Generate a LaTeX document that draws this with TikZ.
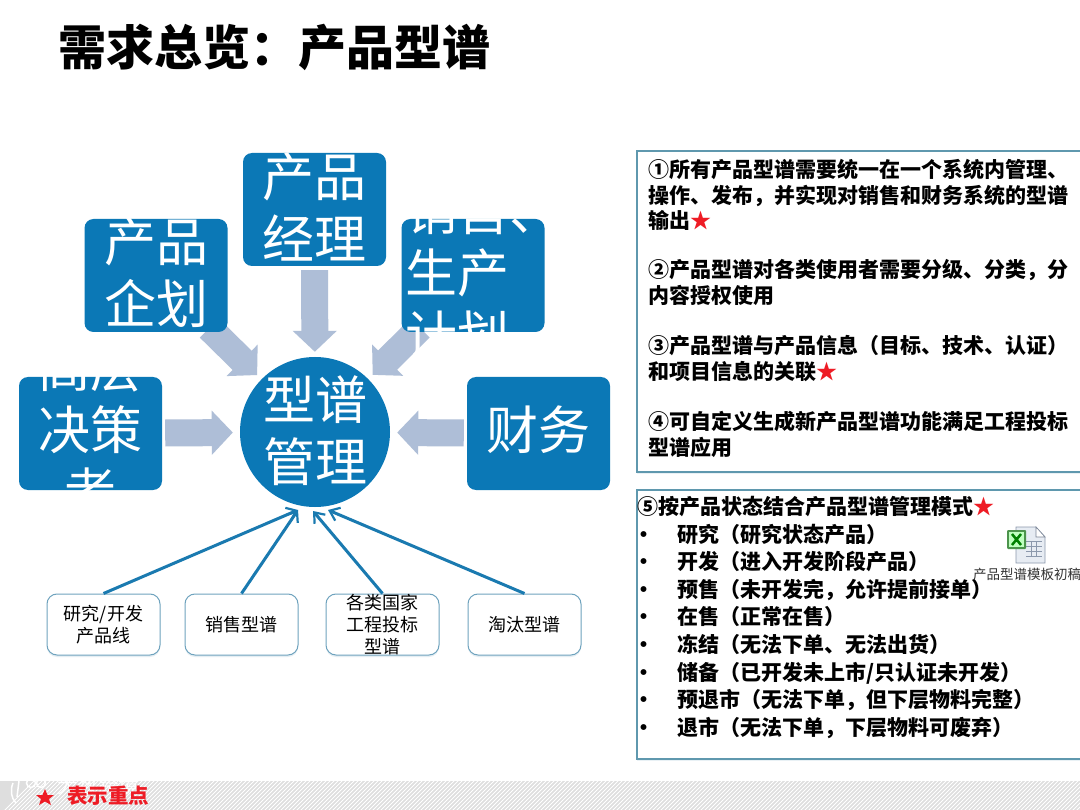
\documentclass[tikz,border=0pt]{standalone}
\usepackage{fontspec}
\setmainfont{Noto Sans CJK SC}
\usetikzlibrary{arrows.meta,backgrounds,shadows}
\definecolor{hubblue}{HTML}{0B78B6}
\definecolor{blockcol}{HTML}{AEBED7}
\definecolor{edgeblue}{HTML}{1A7AB0}
\definecolor{panelline}{HTML}{5F98AE}
\definecolor{lowline}{HTML}{6FA3BE}
\definecolor{starred}{HTML}{EE1C25}
\newcommand{\hs}{{\color{starred}★}}
\newcommand{\bl}{\makebox[40pt][l]{\hspace{-4pt}•}}
\tikzset{
  x=1pt,y=-1pt,
  bluebox/.style={draw=none,fill=hubblue,rounded corners=9pt,minimum width=143pt,minimum height=113pt,inner sep=0pt},
  hubnode/.style={circle,fill=hubblue,minimum size=150pt,inner sep=0pt},
  bigtext/.style={inner sep=0pt,text=white,align=center,font=\fontsize{52}{62}\selectfont},
  blockarrow/.style={line width=27pt,color=blockcol,-{Triangle[width=43pt,length=21pt]}},
  lowbox/.style={draw=lowline,line width=1pt,fill=white,rounded corners=10pt,minimum width=113pt,minimum height=61pt,inner sep=0pt,
    drop shadow={shadow xshift=0pt,shadow yshift=-2pt,opacity=.18,fill=lowline}},
  lowtext/.style={inner sep=0pt,align=center,font=\fontsize{18}{22}\selectfont},
  thinarrow/.style={edgeblue,line width=3pt,-{Straight Barb[length=9pt,width=14pt,line width=2.2pt]}},
  panel/.style={draw=panelline,line width=1.5pt,fill=white,drop shadow={shadow xshift=0pt,shadow yshift=-2pt,opacity=.15,fill=lowline}},
  paneltext/.style={anchor=west,inner sep=0pt,align=left,font=\fontsize{21}{25.2}\selectfont\bfseries}
}
\begin{document}
\begin{tikzpicture}
\useasboundingbox (0,0) rectangle (1080,810);

\node[anchor=west,inner sep=0pt,font=\fontsize{48}{48}\selectfont\bfseries] (title) at (58,47) {需求总览：产品型谱};

% central diagram
\node[hubnode] (hub) at (315,432) {};
\node[bluebox] (pm) at (314.5,209.5) {};
\node[bluebox] (plan) at (156,275.5) {};
\node[bluebox] (prod) at (473,275.5) {};
\node[bluebox] (exec) at (90.5,433.5) {};
\node[bluebox] (fin) at (538.5,433.5) {};

\begin{scope}[on background layer]
\fill[white] (0,0) rectangle (1080,810);
\draw[blockarrow,shorten <=4pt,shorten >=5pt] (pm) -- (hub);
\draw[blockarrow,shorten <=-6pt,shorten >=6pt] (plan) -- (hub);
\draw[blockarrow,shorten <=-6pt,shorten >=6pt] (prod) -- (hub);
\draw[blockarrow,shorten <=3pt,shorten >=7pt] (exec) -- (hub);
\draw[blockarrow,shorten <=3pt,shorten >=7pt] (fin) -- (hub);
\end{scope}

\node[bigtext] (hubt) at (315,431) {型谱\\管理};
\node[bigtext] (pmt) at (314.5,207) {产品\\经理};
\node[bigtext] (plant) at (156,272.5) {产品\\企划};
\node[bigtext,anchor=west,align=left] (prodt) at (405,272.5) {销售、\\生产\\计划};
\node[bigtext] (exect) at (90.5,430) {高层\\决策\\者};
\node[bigtext] (fint) at (538.5,430) {财务};

% lower boxes
\node[lowbox] (l1) at (103.5,624.5) {};
\node[lowbox] (l2) at (241.5,624.5) {};
\node[lowbox] (l3) at (382.5,624.5) {};
\node[lowbox] (l4) at (524.5,624.5) {};
\node[lowtext] (l1t) at (l1) {研究/开发\\产品线};
\node[lowtext] (l2t) at (l2) {销售型谱};
\node[lowtext] (l3t) at (l3) {各类国家\\工程投标\\型谱};
\node[lowtext] (l4t) at (l4) {淘汰型谱};
\coordinate (e1) at (298,510);
\coordinate (e2) at (298,510);
\coordinate (e3) at (313,511);
\coordinate (e4) at (328,510);
\draw[thinarrow] (l1.north) -- (e1);
\draw[thinarrow] (l2.north) -- (e2);
\draw[thinarrow] (l3.north) -- (e3);
\draw[thinarrow] (l4.north) -- (e4);

% right panels
\path[panel] (637,151) rectangle (1086,472);
\node[paneltext] (t1) at (648,195) {①所有产品型谱需要统一在一个系统内管理、\\操作、发布，并实现对销售和财务系统的型谱\\输出\hs};
\node[paneltext] (t2) at (648,282.5) {②产品型谱对各类使用者需要分级、分类，分\\内容授权使用};
\node[paneltext] (t3) at (648,358.5) {③产品型谱与产品信息（目标、技术、认证）\\和项目信息的关联\hs};
\node[paneltext] (t4) at (648,434.5) {④可自定义生成新产品型谱功能满足工程投标\\型谱应用};

\path[panel] (637,490) rectangle (1086,759);
\node[paneltext,font=\fontsize{21}{27.6}\selectfont\bfseries] (t5) at (637,617.5) {⑤按产品状态结合产品型谱管理模式\hs\\
\bl 研究（研究状态产品）\\
\bl 开发（进入开发阶段产品）\\
\bl 预售（未开发完，允许提前接单）\\
\bl 在售（正常在售）\\
\bl 冻结（无法下单、无法出货）\\
\bl 储备（已开发未上市/只认证未开发）\\
\bl 预退市（无法下单，但下层物料完整）\\
\bl 退市（无法下单，下层物料可废弃）};

% spreadsheet icon
\fill[white!70!blockcol,draw=blockcol!80!black,line width=.8pt] (1016,527) -- (1036,527) -- (1045,537) -- (1045,563) -- (1016,563) -- cycle;
\draw[blockcol!70!black,fill=white,line width=.6pt] (1036,527) -- (1036,537) -- (1045,537) -- cycle;
\foreach \yy in {541,546,551,556}{\draw[blockcol!80!black,line width=.5pt] (1026,\yy) -- (1042,\yy);}
\foreach \xx in {1031,1036}{\draw[blockcol!80!black,line width=.5pt] (\xx,541) -- (\xx,556);}
\fill[green!40!black!70,rounded corners=1pt] (1007,530) rectangle (1026,549);
\fill[green!25!white] (1009,532) rectangle (1024,547);
\draw[green!50!black,line width=2.5pt] (1012,534) -- (1021,545) (1021,534) -- (1012,545);
\node[anchor=west,inner sep=0pt,font=\fontsize{13.5}{14}\selectfont,text=black!80] (cap) at (973,574) {产品型谱模板初稿};

% footer
\begin{scope}
\clip (0,781) rectangle (1080,810);
\fill[black!13] (0,781) rectangle (1080,810);
\foreach \i in {0,4,...,1120}{\draw[white,line width=1pt] (\i,815) -- (\i+40,775);}
\end{scope}
\fill[starred] (45,789) -- (47.5,795) -- (54,795) -- (49,799) -- (51,805) -- (45,801.5) -- (39,805) -- (41,799) -- (36,795) -- (42.5,795) -- cycle;
\draw[white,line width=1.5pt] (13,783) .. controls (10,790) and (11,798) .. (16,803) (19,781) -- (17,797);
\draw[white,line width=1.5pt] (31,783) circle[radius=4.5pt] (41,783) circle[radius=4.5pt];
\node[anchor=west,inner sep=0pt,text=white,font=\fontsize{20.5}{20}\selectfont] (wm) at (57,786) {大数跨境};
\node[anchor=west,inner sep=0pt,text=starred,font=\fontsize{20.5}{20}\selectfont\bfseries] (key) at (67,796) {表示重点};
\end{tikzpicture}
\end{document}
